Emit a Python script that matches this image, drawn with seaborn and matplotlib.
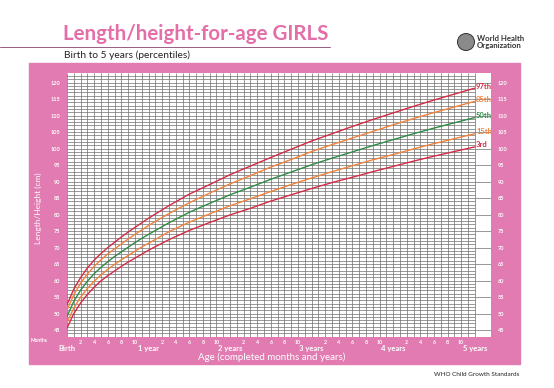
import matplotlib
matplotlib.use('Agg')
import matplotlib.pyplot as plt
import matplotlib.patches as mpatches
import matplotlib.transforms as mtrans
import pandas as pd
import seaborn as sns

# WHO length/height-for-age girls (cm): length to 21 months, height from 24 months
months = [0, 1, 2, 3, 4, 5, 6, 7, 8, 9, 10, 11, 12, 15, 18, 21,
          24, 27, 30, 33, 36, 39, 42, 45, 48, 51, 54, 57, 60]
p3 = [45.6, 50.0, 53.2, 55.8, 58.0, 59.9, 61.5, 62.9, 64.3, 65.6, 66.8, 68.0, 69.2, 72.4, 75.2, 77.6,
      79.9, 81.9, 84.1, 86.0, 87.9, 89.7, 91.3, 93.0, 94.6, 96.2, 97.7, 99.1, 100.5]
p15 = [47.2, 51.7, 55.0, 57.6, 59.8, 61.7, 63.4, 64.9, 66.3, 67.6, 68.9, 70.2, 71.3, 74.8, 77.7, 80.2,
       82.7, 84.8, 87.0, 89.1, 91.1, 93.0, 94.8, 96.6, 98.2, 99.9, 101.5, 103.0, 104.5]
p50 = [49.1, 53.7, 57.1, 59.8, 62.1, 64.0, 65.7, 67.3, 68.7, 70.1, 71.5, 72.8, 74.0, 77.5, 80.7, 83.4,
       86.0, 88.3, 90.7, 92.9, 95.1, 97.1, 99.0, 100.9, 102.7, 104.5, 106.2, 107.8, 109.4]
p85 = [51.1, 55.7, 59.2, 62.0, 64.3, 66.3, 68.1, 69.6, 71.1, 72.6, 74.0, 75.3, 76.7, 80.3, 83.6, 86.5,
       89.3, 91.8, 94.4, 96.7, 99.1, 101.2, 103.2, 105.2, 107.2, 109.1, 110.9, 112.6, 114.3]
p97 = [52.7, 57.4, 60.9, 63.8, 66.2, 68.2, 70.0, 71.6, 73.2, 74.7, 76.1, 77.5, 78.9, 82.7, 86.2, 89.1,
       92.1, 94.7, 97.3, 99.8, 102.3, 104.5, 106.7, 108.8, 110.8, 112.8, 114.7, 116.5, 118.3]

pct_names = ['97th', '85th', '50th', '15th', '3rd']
pct_colors = ['#d42a45', '#f2813a', '#2e8b45', '#f2813a', '#d42a45']
year_labels = ['Birth', '1 year', '2 years', '3 years', '4 years', '5 years']
y_ticks = list(range(45, 121, 5))

series = [p97, p85, p50, p15, p3]
df = pd.DataFrame({
    'month': months * len(pct_names),
    'cm': sum(series, []),
    'pct': [n for n in pct_names for _ in months],
})

sns.set_style('white')
plt.rcParams['font.family'] = ['Lato', 'DejaVu Sans']

pink = '#e27bb1'
W, H = 554, 388
fig = plt.figure(figsize=(W / 100, H / 100), dpi=100)

# pink panel behind the chart
fig.patches.append(mpatches.Rectangle((29 / W, 1 - 364 / H), (520 - 29) / W, (364 - 63) / H,
                                      transform=fig.transFigure, color=pink, zorder=-10))

ax = fig.add_axes([67 / W, 1 - 337 / H, (491 - 67) / W, (337 - 73) / H])
ax.set_zorder(1)
ax.set_facecolor('white')
xmax = 62.4
ax.set_xlim(0, xmax)
ax.set_ylim(42.9, 122.9)

# grid: every month, every cm
grid_c = '#6e6e6e'
ax.vlines(range(0, 61), 42.9, 122.9, color=grid_c, lw=0.5, zorder=1)
ax.hlines(range(43, 123), 0, 60, color=grid_c, lw=0.5, zorder=1)
ax.hlines(y_ticks, 60, xmax, color=grid_c, lw=0.5, zorder=1)

sns.lineplot(data=df, x='month', y='cm', hue='pct', hue_order=pct_names,
             palette=dict(zip(pct_names, pct_colors)), estimator=None,
             lw=1.0, legend=False, ax=ax, zorder=3)

for name, col, vals in zip(pct_names, pct_colors, series):
    ax.text(60.2, vals[-1] + 0.6, name, color=col, fontsize=5.5, fontweight='bold',
            ha='left', va='center', zorder=4)

for s in ax.spines.values():
    s.set_visible(False)

ax.set_yticks(y_ticks)
ax.set_yticklabels([str(t) for t in y_ticks])
ax.tick_params(axis='y', length=0, labelsize=4, labelcolor='white',
               labelleft=True, labelright=True, pad=5)
ax.set_xticks(range(0, 61))
ax.set_xticklabels([str(m % 12) if m % 12 in (2, 4, 6, 8, 10) else '' for m in range(0, 61)])
ax.tick_params(axis='x', length=0, labelsize=3.8, labelcolor='white', pad=2)
for lab in ax.get_xticklabels() + ax.get_yticklabels():
    lab.set_fontweight('bold')
ax.set_xlabel('')
ax.set_ylabel('')

trans = mtrans.blended_transform_factory(ax.transData, ax.transAxes)
for i, lab in enumerate(year_labels):
    ax.text(i * 12, -0.043, lab, transform=trans, ha='center', va='center',
            color='white', fontsize=5.5, fontweight='bold')

fig.text(272 / W, 1 - 357 / H, 'Age (completed months and years)', color='white',
         fontsize=7, ha='center', va='center')
fig.text(39 / W, 1 - 341 / H, 'Months', color='white', fontsize=3.5,
         fontweight='bold', ha='center', va='center')
fig.text(38 / W, 1 - 208 / H, 'Length/Height (cm)', color='white', fontsize=6,
         rotation=90, ha='center', va='center')

# header
fig.text(63 / W, 1 - 34 / H, 'Length/height-for-age GIRLS', color='#e46ea8',
         fontsize=14.8, fontweight='bold', ha='left', va='center')
fig.text(64 / W, 1 - 55 / H, 'Birth to 5 years (percentiles)', color='#222222',
         fontsize=7.3, ha='left', va='center')
fig.add_artist(plt.Line2D([0, 330 / W], [1 - 47 / H, 1 - 47 / H], color='#9a5a80',
                          lw=0.7, transform=fig.transFigure))

# WHO emblem and name
fig.patches.append(mpatches.Ellipse((466 / W, 1 - 42 / H), 17 / W, 17 / H,
                                    transform=fig.transFigure,
                                    facecolor='#8a8a8a', edgecolor='#333333', lw=0.7))
fig.text(477 / W, 1 - 42 / H, 'World Health\nOrganization', color='#333333',
         fontsize=5.6, fontweight='bold', ha='left', va='center', linespacing=1.0)

fig.text(519 / W, 1 - 374 / H, 'WHO Child Growth Standards', color='#222222',
         fontsize=4.6, ha='right', va='center')

fig.savefig('out.png', dpi=100)
